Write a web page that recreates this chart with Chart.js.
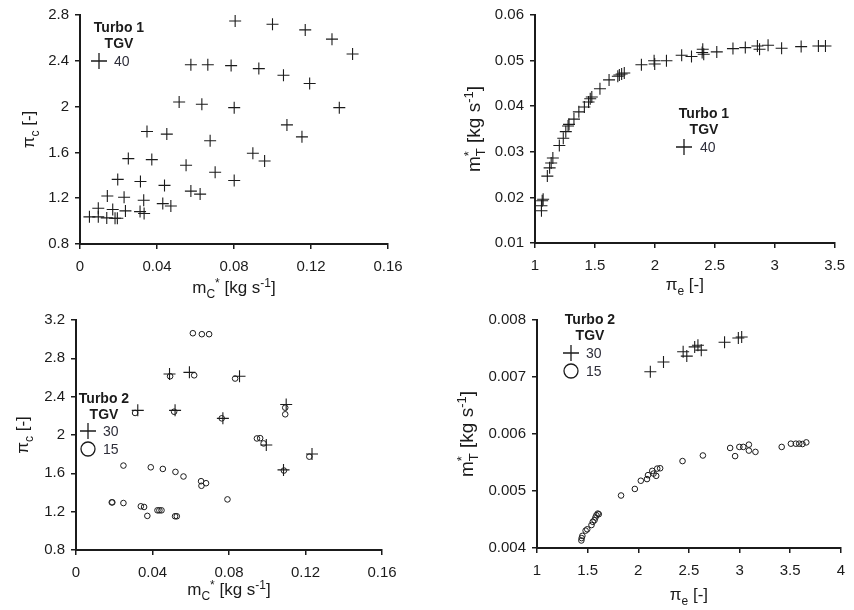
<!DOCTYPE html>
<html>
<head>
<meta charset="utf-8">
<script src="https://cdn.jsdelivr.net/npm/chart.js@4.4.1/dist/chart.umd.min.js"></script>
<style>
  html, body { margin: 0; padding: 0; background: #fff; }
  #wrap { position: relative; width: 854px; height: 610px; }
  .panel { position: absolute; width: 427px; height: 305px; }
</style>
</head>
<body>
<div id="wrap">
  <div class="panel" style="left:0;top:0"><canvas id="c1" width="427" height="305"></canvas></div>
  <div class="panel" style="left:427px;top:0"><canvas id="c2" width="427" height="305"></canvas></div>
  <div class="panel" style="left:0;top:305px"><canvas id="c3" width="427" height="305"></canvas></div>
  <div class="panel" style="left:427px;top:305px"><canvas id="c4" width="427" height="305"></canvas></div>
</div>
<script>
// Turbo 1, TGV 40 - compressor map
var t1MassC = [0.0806, 0.1000, 0.1170, 0.1309, 0.1416, 0.0576, 0.0664, 0.0785, 0.0929, 0.1057, 0.1193,
  0.0515, 0.0633, 0.0801, 0.1347, 0.1075, 0.1153, 0.0348, 0.0451, 0.0676, 0.0251, 0.0373, 0.0898, 0.0959,
  0.0551, 0.0702, 0.0801, 0.0196, 0.0314, 0.0439, 0.0576, 0.0624, 0.0142, 0.0229, 0.0331, 0.0430, 0.0472,
  0.0095, 0.0170, 0.0236, 0.0312, 0.0333, 0.0049, 0.0095, 0.0139, 0.0182, 0.0194];
var t1PiC = [2.748, 2.719, 2.670, 2.589, 2.459, 2.366, 2.366, 2.358, 2.332, 2.274, 2.202,
  2.040, 2.020, 1.991, 1.991, 1.840, 1.736, 1.783, 1.760, 1.702, 1.546, 1.537, 1.592, 1.525,
  1.488, 1.427, 1.355, 1.364, 1.346, 1.312, 1.262, 1.236, 1.219, 1.208, 1.182, 1.153, 1.132,
  1.112, 1.101, 1.089, 1.083, 1.066, 1.037, 1.037, 1.028, 1.025, 1.025];

// Turbo 1, TGV 40 - turbine map
var t1PiE = [1.054, 1.054, 1.060, 1.068, 1.103, 1.122, 1.135, 1.149, 1.203, 1.236, 1.257, 1.276, 1.284,
  1.325, 1.366, 1.412, 1.447, 1.461, 1.474, 1.542, 1.618, 1.691, 1.704, 1.723, 1.745, 1.888, 1.994, 1.999,
  2.097, 2.224, 2.306, 2.395, 2.400, 2.408, 2.517, 2.652, 2.755, 2.856, 2.874, 2.945, 3.058, 3.221, 3.365, 3.424];
var t1MassT = [0.01708, 0.01817, 0.01925, 0.0196, 0.02467, 0.02648, 0.02756, 0.02864, 0.03139, 0.03298,
  0.03442, 0.03565, 0.03601, 0.03717, 0.03876, 0.03984, 0.04093, 0.04165, 0.04201, 0.04382, 0.04577, 0.04656,
  0.04685, 0.04707, 0.04728, 0.04909, 0.04996, 0.04924, 0.04996, 0.05118, 0.05090, 0.05176, 0.05249, 0.05140,
  0.05191, 0.05263, 0.05285, 0.05321, 0.05249, 0.05335, 0.05271, 0.05307, 0.05321, 0.05321];

// Turbo 2 - compressor map
var t2MassC30 = [0.0489, 0.0593, 0.0855, 0.0323, 0.0518, 0.0768, 0.1099, 0.0995, 0.1234, 0.1085];
var t2PiC30 = [2.637, 2.654, 2.613, 2.257, 2.257, 2.174, 2.319, 1.895, 1.801, 1.636];
var t2MassC15 = [0.0611, 0.0658, 0.0696, 0.0492, 0.0618, 0.0832, 0.0309, 0.0513, 0.0762, 0.1094, 0.1094,
  0.0946, 0.0963, 0.0981, 0.1220, 0.1087, 0.0248, 0.0391, 0.0454, 0.0520, 0.0562, 0.0654, 0.0680, 0.0656,
  0.0792, 0.0187, 0.0190, 0.0248, 0.0339, 0.0356, 0.0373, 0.0426, 0.0436, 0.0447, 0.0518, 0.0527];
var t2PiC15 = [3.062, 3.052, 3.052, 2.613, 2.623, 2.589, 2.230, 2.243, 2.174, 2.285, 2.216,
  1.964, 1.967, 1.912, 1.774, 1.629, 1.681, 1.663, 1.646, 1.615, 1.567, 1.518, 1.497, 1.470,
  1.328, 1.297, 1.297, 1.290, 1.256, 1.249, 1.156, 1.214, 1.214, 1.214, 1.152, 1.152];

// Turbo 2 - turbine map
var t2PiE30 = [2.119, 2.249, 2.443, 2.479, 2.557, 2.589, 2.622, 2.852, 2.988, 3.021];
var t2MassT30 = [0.007091, 0.007264, 0.007442, 0.007367, 0.007528, 0.007557, 0.007471, 0.007609, 0.007683, 0.007701];
var t2PiE15 = [1.438, 1.441, 1.448, 1.480, 1.496, 1.538, 1.551, 1.568, 1.577, 1.587, 1.600, 1.610,
  1.830, 1.966, 2.025, 2.086, 2.096, 2.138, 2.151, 2.177, 2.187, 2.216, 2.437, 2.638,
  2.907, 2.956, 2.998, 3.037, 3.092, 3.092, 3.157, 3.416, 3.507, 3.556, 3.589, 3.621, 3.659];
var t2MassT15 = [0.004132, 0.004173, 0.004213, 0.004305, 0.004328, 0.004403, 0.004460, 0.004489, 0.004535,
  0.004575, 0.004604, 0.004593, 0.004921, 0.005036, 0.005180, 0.005209, 0.005278, 0.005353, 0.005306,
  0.005266, 0.005393, 0.005399, 0.005525, 0.005623, 0.005755, 0.005612, 0.005773, 0.005773, 0.005813,
  0.005709, 0.005686, 0.005773, 0.005830, 0.005830, 0.005830, 0.005824, 0.005853];

// tick values
var massCTicks = [0, 0.04, 0.08, 0.12, 0.16];
var piC1Ticks = [0.8, 1.2, 1.6, 2, 2.4, 2.8];
var piC2Ticks = [0.8, 1.2, 1.6, 2, 2.4, 2.8, 3.2];
var piE1Ticks = [1, 1.5, 2, 2.5, 3, 3.5];
var piE2Ticks = [1, 1.5, 2, 2.5, 3, 3.5, 4];
var massT1Ticks = [0.01, 0.02, 0.03, 0.04, 0.05, 0.06];
var massT2Ticks = [0.004, 0.005, 0.006, 0.007, 0.008];

// axis titles (sub / sup parts)
var titlePiC = [{ t: '\u03c0' }, { t: 'c', sub: 1 }, { t: ' [-]' }];
var titlePiE = [{ t: '\u03c0' }, { t: 'e', sub: 1 }, { t: ' [-]' }];
var titleMassC = [{ t: 'm' }, { t: 'C', sub: 1 }, { t: '*', sup: 1 }, { t: ' [kg s' }, { t: '-1', sup: 1 }, { t: ']' }];
var titleMassT = [{ t: 'm' }, { t: 'T', sub: 1 }, { t: '*', sup: 1, stack: 1 }, { t: ' [kg s' }, { t: '-1', sup: 1 }, { t: ']' }];

var FONT = '"Liberation Sans", Arial, sans-serif';
var INK = '#1b1b1b';
var W = 427, H = 305;

function toPoints(xs, ys) {
  return xs.map(function (x, i) { return { x: x, y: ys[i] }; });
}

function fmt(v) {
  return String(Number(Number(v).toFixed(4)));
}

function drawRich(ctx, segs, cx, cy, size, rotate) {
  var x = 0, prevX = 0, items = [];
  segs.forEach(function (s) {
    var small = s.sub || s.sup;
    var font = (small ? Math.round(size * 0.68) : size) + 'px ' + FONT;
    ctx.font = font;
    var w = ctx.measureText(s.t).width;
    var px = s.stack ? prevX : x;
    items.push({ t: s.t, x: px, dy: s.sub ? size * 0.28 : (s.sup ? -size * 0.38 : 0), font: font });
    if (s.stack) {
      x = Math.max(x, px + w);
    } else {
      prevX = x;
      x += w;
    }
  });
  ctx.save();
  ctx.translate(cx, cy);
  if (rotate) ctx.rotate(-Math.PI / 2);
  ctx.fillStyle = INK;
  ctx.textBaseline = 'alphabetic';
  ctx.textAlign = 'left';
  items.forEach(function (it) {
    ctx.font = it.font;
    ctx.fillText(it.t, -x / 2 + it.x, size * 0.36 + it.dy);
  });
  ctx.restore();
}

function drawMarker(ctx, style, r, x, y) {
  ctx.save();
  ctx.strokeStyle = INK;
  ctx.lineWidth = 1.3;
  ctx.beginPath();
  if (style === 'cross') {
    ctx.moveTo(x - r, y); ctx.lineTo(x + r, y);
    ctx.moveTo(x, y - r); ctx.lineTo(x, y + r);
  } else {
    ctx.arc(x, y, r, 0, Math.PI * 2);
  }
  ctx.stroke();
  ctx.restore();
}

var decorPlugin = {
  id: 'decor',
  afterDraw: function (chart) {
    var o = chart.options.plugins.decor;
    var ctx = chart.ctx;
    var a = chart.chartArea;
    drawRich(ctx, o.xTitle, (a.left + a.right) / 2, o.xTitleY, 17, false);
    drawRich(ctx, o.yTitle, o.yTitleX, (a.top + a.bottom) / 2, o.yTitleSize, true);

    var lg = o.legend;
    ctx.save();
    ctx.fillStyle = INK;
    ctx.textAlign = 'center';
    ctx.textBaseline = 'middle';
    ctx.font = 'bold ' + lg.titleSize + 'px ' + FONT;
    lg.title.forEach(function (line, i) {
      ctx.fillText(line, lg.cx, lg.y + i * 16);
    });
    ctx.font = '14px ' + FONT;
    ctx.textAlign = 'left';
    ctx.fillStyle = '#2e2e3a';
    chart.data.datasets.forEach(function (ds, i) {
      var ry = lg.rowY + i * 18;
      drawMarker(ctx, ds.pointStyle, ds.pointStyle === 'cross' ? 8 : 7, lg.markX, ry);
      ctx.fillText(ds.label, lg.textX, ry + 1);
    });
    ctx.restore();
  }
};

function linearAxis(min, max, ticks, pad, fitFn) {
  return {
    type: 'linear',
    min: min,
    max: max,
    afterBuildTicks: function (scale) {
      scale.ticks = ticks.map(function (v) { return { value: v }; });
    },
    afterFit: fitFn,
    grid: { display: true, drawOnChartArea: false, drawTicks: true, tickLength: 5, color: INK, lineWidth: 1.5 },
    border: { display: true, color: INK, width: 2 },
    ticks: {
      color: INK,
      font: { family: FONT, size: 15 },
      padding: pad,
      maxRotation: 0,
      autoSkip: false,
      callback: function (v) { return fmt(v); }
    }
  };
}

function crossSet(label, xs, ys) {
  return {
    label: label,
    data: toPoints(xs, ys),
    pointStyle: 'cross',
    pointRadius: 6,
    borderColor: INK,
    borderWidth: 1.1,
    backgroundColor: 'transparent'
  };
}

function circleSet(label, xs, ys) {
  return {
    label: label,
    data: toPoints(xs, ys),
    pointStyle: 'circle',
    pointRadius: 2.8,
    borderColor: INK,
    borderWidth: 1,
    backgroundColor: 'transparent'
  };
}

function makePanel(id, p) {
  var area = p.area;
  new Chart(document.getElementById(id), {
    type: 'scatter',
    data: { datasets: p.datasets },
    options: {
      responsive: false,
      animation: false,
      events: [],
      layout: { padding: { left: 0, top: area.top, right: W - area.right, bottom: 0 } },
      scales: {
        x: linearAxis(p.x[0], p.x[1], p.xTicks, 9, function (s) { s.height = H - area.bottom; }),
        y: linearAxis(p.y[0], p.y[1], p.yTicks, 6, function (s) { s.width = area.left; })
      },
      plugins: {
        legend: { display: false },
        tooltip: { enabled: false },
        decor: {
          xTitle: p.xTitle,
          yTitle: p.yTitle,
          yTitleSize: p.yTitleSize,
          xTitleY: p.xTitleY,
          yTitleX: p.yTitleX,
          legend: p.legend
        }
      }
    },
    plugins: [decorPlugin]
  });
}

makePanel('c1', {
  area: { left: 80, right: 388, top: 13, bottom: 244 },
  x: [0, 0.16], y: [0.8, 2.8], xTicks: massCTicks, yTicks: piC1Ticks,
  xTitle: titleMassC, yTitle: titlePiC, yTitleSize: 17, xTitleY: 287, yTitleX: 28,
  legend: { title: ['Turbo 1', 'TGV'], titleSize: 14, cx: 119, y: 28, rowY: 61, markX: 99, textX: 114 },
  datasets: [crossSet('40', t1MassC, t1PiC)]
});

makePanel('c2', {
  area: { left: 108, right: 416, top: 12, bottom: 243 },
  x: [1, 3.5], y: [0.01, 0.06], xTicks: piE1Ticks, yTicks: massT1Ticks,
  xTitle: titlePiE, yTitle: titleMassT, yTitleSize: 19, xTitleY: 284, yTitleX: 46,
  legend: { title: ['Turbo 1', 'TGV'], titleSize: 14, cx: 277, y: 114, rowY: 147, markX: 257, textX: 273 },
  datasets: [crossSet('40', t1PiE, t1MassT)]
});

makePanel('c3', {
  area: { left: 76, right: 382, top: 13, bottom: 245 },
  x: [0, 0.16], y: [0.8, 3.2], xTicks: massCTicks, yTicks: piC2Ticks,
  xTitle: titleMassC, yTitle: titlePiC, yTitleSize: 17, xTitleY: 284, yTitleX: 22,
  legend: { title: ['Turbo 2', 'TGV'], titleSize: 14, cx: 104, y: 94, rowY: 126, markX: 88, textX: 103 },
  datasets: [crossSet('30', t2MassC30, t2PiC30), circleSet('15', t2MassC15, t2PiC15)]
});

makePanel('c4', {
  area: { left: 110, right: 419, top: 12, bottom: 243 },
  x: [1, 4], y: [0.004, 0.008], xTicks: piE2Ticks, yTicks: massT2Ticks,
  xTitle: titlePiE, yTitle: titleMassT, yTitleSize: 19, xTitleY: 289, yTitleX: 39,
  legend: { title: ['Turbo 2', 'TGV'], titleSize: 14, cx: 163, y: 15, rowY: 48, markX: 144, textX: 159 },
  datasets: [crossSet('30', t2PiE30, t2MassT30), circleSet('15', t2PiE15, t2MassT15)]
});
</script>
</body>
</html>
